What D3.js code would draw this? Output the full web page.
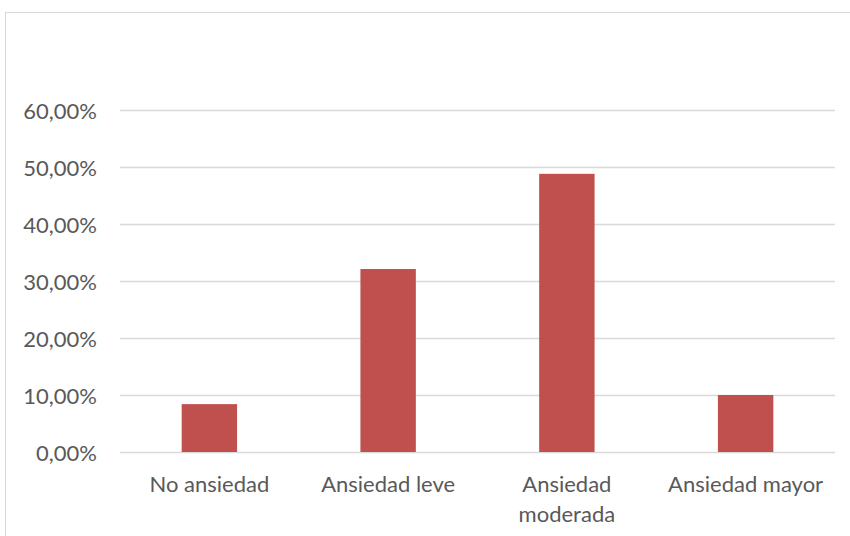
<!DOCTYPE html>
<html>
<head>
<meta charset="utf-8">
<script src="https://cdn.jsdelivr.net/npm/d3@7"></script>
<style>
  html, body { margin: 0; padding: 0; background: #ffffff; }
  svg { display: block; }
  text { font-family: Lato, "Open Sans", sans-serif; fill: #595959; }
</style>
</head>
<body>
<svg id="chart" width="850" height="536"></svg>
<script>
// Anxiety levels and their share of respondents
const categories = ["No ansiedad", "Ansiedad leve", "Ansiedad moderada", "Ansiedad mayor"];
const categoryLines = [["No ansiedad"], ["Ansiedad leve"], ["Ansiedad", "moderada"], ["Ansiedad mayor"]];
const values = [0.084, 0.321, 0.488, 0.100];
const yTicks = [0, 0.1, 0.2, 0.3, 0.4, 0.5, 0.6];

const svg = d3.select("#chart");
const plot = { left: 120, right: 835, top: 110, bottom: 452 };
const fontSize = 22;

// Outer chart frame
svg.append("rect")
  .attr("x", 5.5).attr("y", 12.5)
  .attr("width", 860).attr("height", 540)
  .attr("fill", "none").attr("stroke", "#d9d9d9").attr("stroke-width", 1);

const x = d3.scaleBand()
  .domain(categories)
  .range([plot.left, plot.right])
  .paddingInner(0.69)
  .paddingOuter(0.345);

const y = d3.scaleLinear()
  .domain([0, 0.6])
  .range([plot.bottom, plot.top]);

const fmt = v => d3.format(".2f")(v * 100).replace(".", ",") + "%";

// Horizontal gridlines
svg.append("g")
  .selectAll("line")
  .data(yTicks)
  .join("line")
  .attr("x1", plot.left).attr("x2", plot.right)
  .attr("y1", d => Math.round(y(d)) + 0.5)
  .attr("y2", d => Math.round(y(d)) + 0.5)
  .attr("stroke", "#d9d9d9").attr("stroke-width", 1.3);

// Y axis labels
const yAxis = d3.axisLeft(y).tickValues(yTicks).tickFormat(fmt).tickSize(0).tickPadding(0);
const gy = svg.append("g").attr("transform", `translate(${plot.left - 23},0)`).call(yAxis);
gy.select(".domain").remove();
gy.selectAll("text")
  .attr("font-size", fontSize)
  .style("font-family", "Lato, 'Open Sans', sans-serif")
  .attr("fill", "#595959")
  .attr("dy", "0.4em");

// Bars
svg.append("g")
  .selectAll("rect")
  .data(values)
  .join("rect")
  .attr("x", (d, i) => x(categories[i]))
  .attr("width", x.bandwidth())
  .attr("y", d => y(d))
  .attr("height", d => y(0) - y(d))
  .attr("fill", "#c0504d");

// Category labels
const gx = svg.append("g");
categories.forEach((c, i) => {
  const cx = x(c) + x.bandwidth() / 2;
  const t = gx.append("text")
    .attr("x", cx)
    .attr("y", 492)
    .attr("text-anchor", "middle")
    .attr("font-size", fontSize);
  categoryLines[i].forEach((line, j) => {
    t.append("tspan")
      .attr("x", cx)
      .attr("dy", j === 0 ? 0 : 30)
      .text(line);
  });
});
</script>
</body>
</html>
